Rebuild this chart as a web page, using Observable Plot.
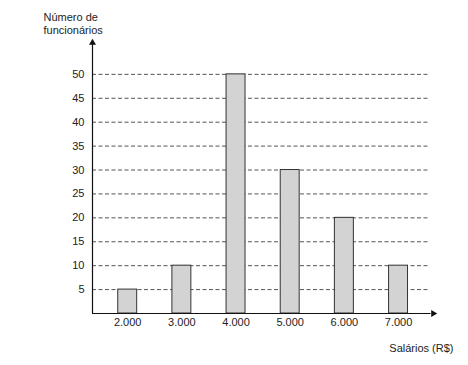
<!DOCTYPE html>
<html>
<head>
<meta charset="utf-8">
<script src="https://cdn.jsdelivr.net/npm/d3@7"></script>
<script src="https://cdn.jsdelivr.net/npm/@observablehq/plot@0.6"></script>
<style>
  html, body { margin: 0; padding: 0; background: #fff; }
  svg { font-family: "Liberation Sans", Arial, sans-serif; }
</style>
</head>
<body>
<div id="chart"></div>
<script>
const salaries = [2000, 3000, 4000, 5000, 6000, 7000];
const salaryLabels = ["2.000", "3.000", "4.000", "5.000", "6.000", "7.000"];
const employees = [5, 10, 50, 30, 20, 10];
const yTicks = [5, 10, 15, 20, 25, 30, 35, 40, 45, 50];
const yTitle = "Número de\nfuncionários";
const xTitle = "Salários (R$)";

const data = salaries.map((s, i) => ({s, n: employees[i]}));
const halfBar = 175;

const chart = Plot.plot({
  width: 468,
  height: 365,
  marginLeft: 92,
  marginRight: 25,
  marginTop: 38,
  marginBottom: 52,
  style: {fontSize: "11px", fontFamily: "'Liberation Sans', Arial, sans-serif", color: "#222", background: "#fff"},
  x: {domain: [1350, 7830]},
  y: {domain: [0, 57.5]},
  marks: [
    Plot.ruleY(yTicks, {x1: 1350, x2: 7560, stroke: "#555", strokeWidth: 1, strokeDasharray: "4,2.5"}),
    Plot.rectY(data, {x1: d => d.s - halfBar, x2: d => d.s + halfBar, y1: 0, y2: "n", fill: "#d3d3d3", stroke: "#333", strokeWidth: 1}),
    Plot.axisY({ticks: yTicks, tickSize: 0, tickPadding: 8, label: null, fill: "#222"}),
    Plot.axisX({ticks: salaries, tickFormat: (d) => salaryLabels[salaries.indexOf(d)], tickSize: 0, tickPadding: 5, label: null, fill: "#222"}),
    Plot.ruleX([1350], {y1: 0, y2: 56.3, stroke: "#111", strokeWidth: 1.2}),
    Plot.ruleY([0], {x1: 1350, x2: 7600, stroke: "#111", strokeWidth: 1.2}),
    Plot.dot([{x: 1350, y: 56.6}], {x: "x", y: "y", symbol: "triangle", r: 2.6, fill: "#111", stroke: "none"}),
    Plot.dot([{x: 7640, y: 0}], {x: "x", y: "y", symbol: "triangle", r: 2.6, fill: "#111", stroke: "none", rotate: 90}),
    Plot.text([yTitle], {frameAnchor: "top-left", dx: -49, dy: -15.5, textAnchor: "start", lineAnchor: "middle", lineHeight: 1.18, fill: "#222", fontSize: 11}),
    Plot.text([xTitle], {frameAnchor: "bottom-right", dx: 10, dy: 35, textAnchor: "end", lineAnchor: "middle", fill: "#222", fontSize: 11})
  ]
});
document.getElementById("chart").appendChild(chart);
</script>
</body>
</html>
